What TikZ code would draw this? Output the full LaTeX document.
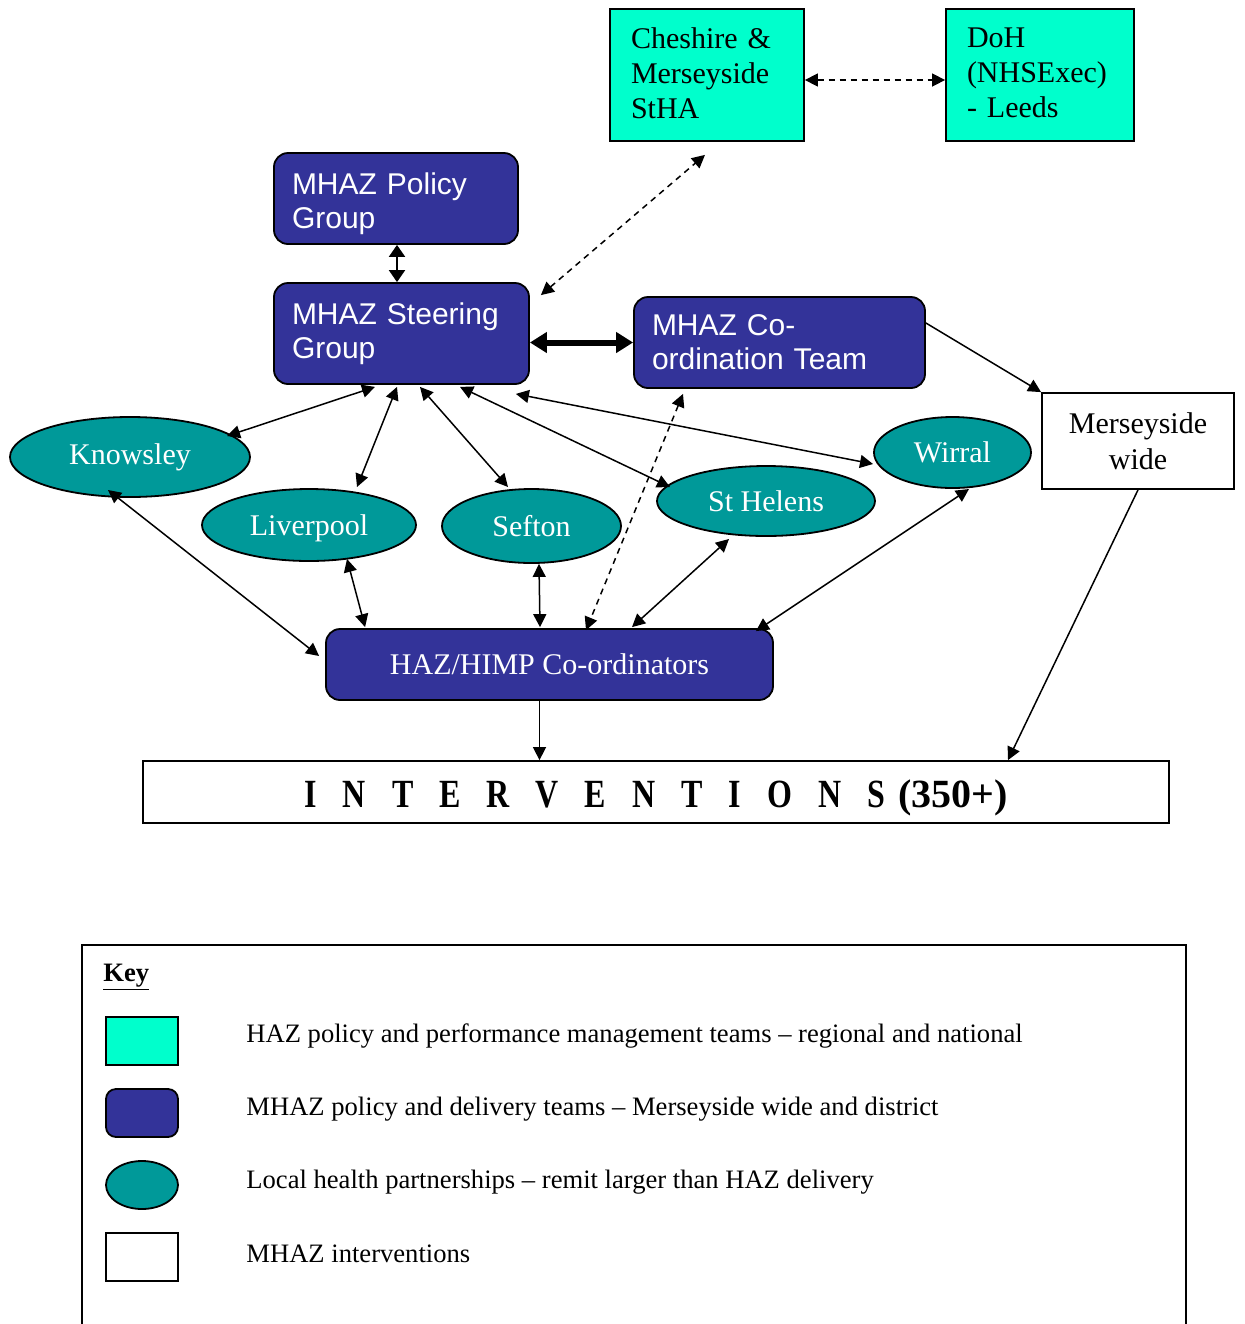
\documentclass[tikz,border=0pt]{standalone}
\usepackage{graphicx}
\usepackage{fontspec}
\setmainfont{Liberation Serif}
\newfontfamily\arialfont{Liberation Sans}
\usetikzlibrary{arrows.meta,shapes.geometric,calc}
\definecolor{aquabox}{HTML}{00FFCC}
\definecolor{navybox}{HTML}{333399}
\definecolor{tealell}{HTML}{009999}
% one condensed capital of the interventions banner
\newcommand{\bannerletter}[1]{\scalebox{0.8}[1]{#1}}

\begin{document}
\begin{tikzpicture}[x=0.5pt,y=-0.5pt,
  regional/.style={draw=black,line width=0.9pt,fill=aquabox,align=left,
    inner ysep=0pt,font=\fontsize{15}{17.5}\selectfont},
  mhaz/.style={draw=black,line width=0.9pt,fill=navybox,rounded corners=7pt,
    text=white,align=left,inner xsep=9pt,inner ysep=0pt,
    font=\arialfont\fontsize{15}{17}\selectfont},
  delivery/.style={draw=black,line width=0.9pt,fill=navybox,rounded corners=7pt,
    text=white,inner sep=0pt,font=\fontsize{15}{18}\selectfont},
  local/.style={ellipse,draw=black,line width=0.9pt,fill=tealell,text=white,
    inner sep=0pt,font=\fontsize{15}{18}\selectfont},
  plainbox/.style={draw=black,line width=0.9pt,fill=white,align=center,
    inner sep=0pt,font=\fontsize{15}{18}\selectfont},
  link/.style={line width=0.75pt,{Triangle[length=6.5pt,width=6.5pt]}-{Triangle[length=6.5pt,width=6.5pt]}},
  onelink/.style={line width=0.75pt,-{Triangle[length=6.5pt,width=6.5pt]}},
  dashlink/.style={link,dash pattern=on 3pt off 2.5pt},
  biglink/.style={line width=3pt,{Triangle[length=8.5pt,width=10pt]}-{Triangle[length=8.5pt,width=10pt]}},
  legendtext/.style={anchor=base west,inner sep=0pt,font=\fontsize{13.3}{15}\selectfont}
]
\useasboundingbox (0,0) rectangle (1244,1324);

% regional and national bodies
\node[regional,minimum width=97pt,minimum height=66pt,inner xsep=10.5pt,text width=76pt]
  (cheshire) at (707,75) {Cheshire \&\\Merseyside\\StHA\rule[-2pt]{0pt}{0pt}};
\node[regional,minimum width=94pt,minimum height=66pt,inner xsep=10.5pt,text width=73pt]
  (doh) at (1040,75) {DoH\\(NHSExec)\\- Leeds\rule[-2pt]{0pt}{0pt}};

% Merseyside-wide teams
\node[mhaz,minimum width=122pt,minimum height=45.5pt,text width=104pt]
  (policy) at (396,198.5) {\rule{0pt}{15.9pt}MHAZ Policy\\Group};
\node[mhaz,minimum width=127.5pt,minimum height=50.5pt,text width=109.5pt]
  (steer) at (401.5,333.5) {MHAZ Steering\\Group};
\node[mhaz,minimum width=145.5pt,minimum height=45.5pt,text width=127.5pt]
  (coord) at (779.5,342.5) {MHAZ Co-\\ordination Team};
\node[plainbox,minimum width=96pt,minimum height=48pt]
  (mwide) at (1138,441) {Merseyside\\wide};

% local health partnerships
\node[local,minimum width=120pt,minimum height=40pt] (knowsley) at (130,457) {Knowsley};
\node[local,minimum width=107pt,minimum height=36pt,text depth=0pt] (liverpool) at (309,525) {Liverpool};
\node[local,minimum width=89.5pt,minimum height=37pt] (sefton) at (531.5,526) {Sefton};
\node[local,minimum width=109pt,minimum height=35pt] (sthelens) at (766,501) {St Helens};
\node[local,minimum width=78.5pt,minimum height=35.5pt] (wirral) at (952.5,452.5) {Wirral};

% district delivery and interventions
\node[delivery,minimum width=223.5pt,minimum height=35.5pt]
  (haz) at (549.5,664.5) {HAZ/HIMP Co-ordinators};
\node[plainbox,minimum width=513pt,minimum height=31pt,text height=15pt,text depth=0pt,
  font=\bfseries\fontsize{20}{24}\selectfont]
  (interv) at (656,792)
  {\bannerletter{I}\kern13pt\bannerletter{N}\kern13pt\bannerletter{T}\kern13pt\bannerletter{E}\kern13pt\bannerletter{R}\kern13pt\bannerletter{V}\kern13pt\bannerletter{E}\kern13pt\bannerletter{N}\kern13pt\bannerletter{T}\kern13pt\bannerletter{I}\kern13pt\bannerletter{O}\kern13pt\bannerletter{N}\kern13pt\bannerletter{S}\kern6.5pt(350+)};

% connectors
\draw[dashlink] ($(cheshire.east)+(0,5)$) -- ($(doh.west)+(0,5)$);
\draw[line width=1pt,{Triangle[length=6pt,width=8pt]}-{Triangle[length=6pt,width=8pt]}]
  ($(policy.south)+(1,0)$) -- ($(steer.north)+(-4.5,0)$);
\draw[biglink] (coord.west -| steer.east) -- (coord.west);
\draw[dashlink] ($(steer.north east)+(11,13)$) -- ($(cheshire.south)+(-2,13)$);
\draw[onelink] ($(coord.east)+(0,-19.5)$) -- (mwide.north west);
\draw[onelink] (mwide.south) -- ($(interv.north)+(352,0)$);
\draw[onelink] ($(haz.south)+(-10,0)$) -- ($(interv.north)+(-116.5,0)$);

\draw[link] ($(steer.south)+(-26.5,2)$) -- ($(knowsley)+(97,-21)$);
\draw[link] ($(steer.south)+(-4.5,2)$) -- ($(liverpool)+(48,-38)$);
\draw[link] ($(steer.south)+(18.5,2)$) -- ($(sefton)+(-23.5,-39)$);
\draw[link] ($(steer.south)+(58.5,2)$) -- ($(sthelens)+(-96,-14)$);
\draw[link] ($(steer.south east)+(-14,9)$) -- ($(wirral)+(-79.5,11.5)$);
\draw[dashlink] ($(coord.south)+(-96.5,5)$) -- ($(haz.north)+(36.5,2)$);

\draw[link] ($(knowsley)+(-22,33)$) -- ($(haz.west)+(-6,-8.5)$);
\draw[link] ($(liverpool)+(38,34)$) -- ($(haz.north west)+(40,-1)$);
\draw[link] ($(sefton.south)+(7.5,0)$) -- ($(haz.north)+(-9.5,-1)$);
\draw[link] ($(sthelens)+(-37,38)$) -- ($(haz.north)+(82.5,-1)$);
\draw[link] ($(wirral)+(16.5,36.5)$) -- ($(haz.north east)+(-18,3)$);

% key
\draw[line width=0.9pt] (82,1340) -- (82,945) -- (1186,945) -- (1186,1340);
\node[anchor=base west,inner sep=0pt,font=\bfseries\fontsize{13.3}{15}\selectfont]
  (keytitle) at (103,981) {\underline{Key}};
\node[regional,minimum width=36pt,minimum height=24pt] (swatchA) at (142,1041) {};
\node[mhaz,minimum width=36pt,minimum height=24pt,inner xsep=0pt,rounded corners=5pt] (swatchB) at (142,1113) {};
\node[local,minimum width=36pt,minimum height=24pt] (swatchC) at (142,1185) {};
\node[plainbox,minimum width=36pt,minimum height=24pt] (swatchD) at (142,1257) {};
\node[legendtext] (keyA) at (246,1042) {HAZ policy and performance management teams – regional and national};
\node[legendtext] (keyB) at (246,1115) {MHAZ policy and delivery teams – Merseyside wide and district};
\node[legendtext] (keyC) at (246,1188) {Local health partnerships – remit larger than HAZ delivery};
\node[legendtext] (keyD) at (246,1262) {MHAZ interventions};
\end{tikzpicture}
\end{document}
